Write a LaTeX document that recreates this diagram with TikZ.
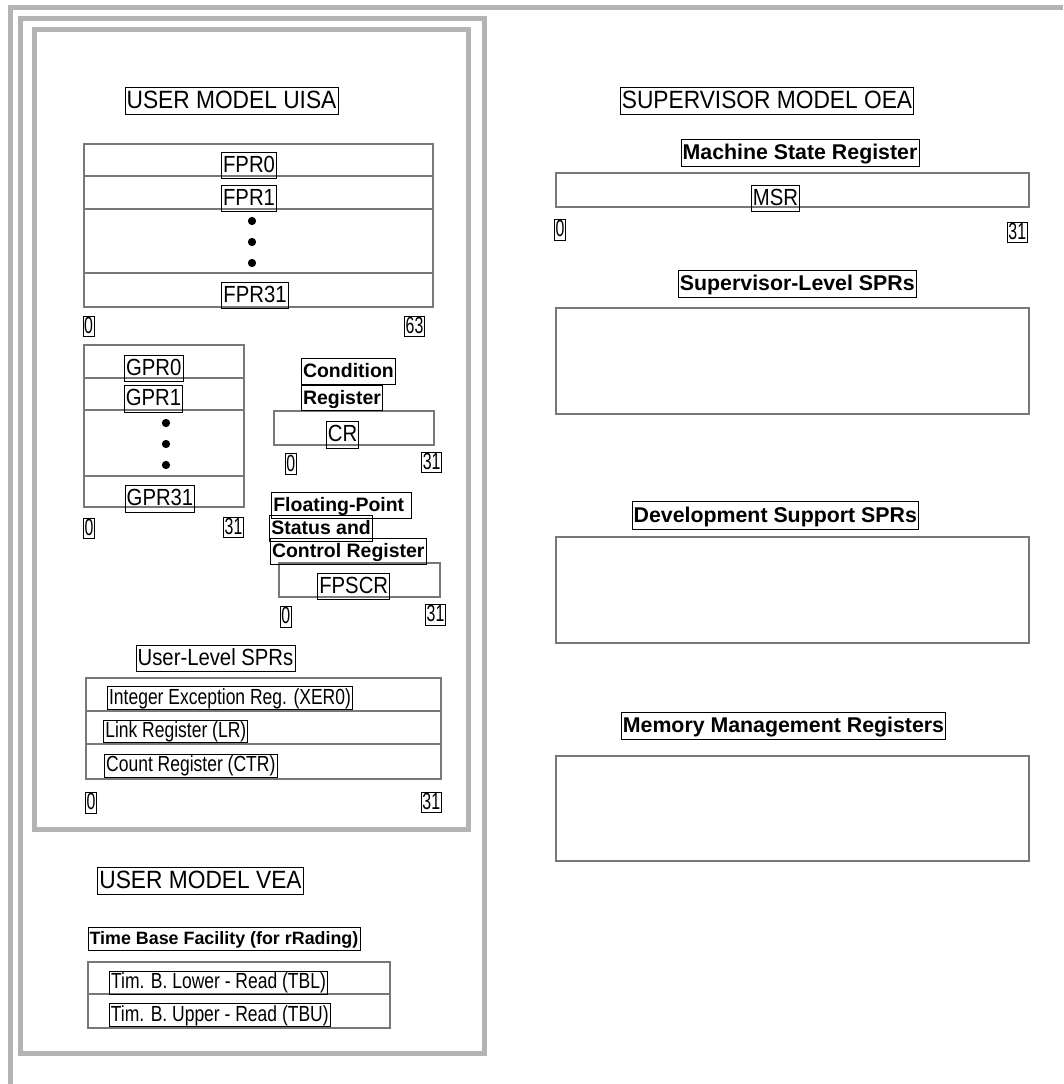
\documentclass[tikz,border=0pt]{standalone}
\usepackage{fontspec}
\setmainfont{Liberation Sans}
\newfontfamily\titlefont[FakeStretch=0.91]{Liberation Sans}
\newfontfamily\regfont[FakeStretch=0.87]{Liberation Sans}
\newfontfamily\rowfont[FakeStretch=0.80]{Liberation Sans}
\newfontfamily\digfont[FakeStretch=0.68]{Liberation Sans}
\definecolor{framegray}{RGB}{181,178,181}
\definecolor{midgray}{RGB}{120,120,120}
\tikzset{
  frame/.style={draw=framegray, line width=3.75pt},
  regbar/.style={draw=black, line width=0.6pt, double=midgray, double distance=0.9pt},
  dotmark/.style={fill=black, radius=3.1pt},
  lbl/.style={draw=black, line width=0.65pt, inner xsep=1.2pt, inner ysep=0pt, anchor=center},
  ttl/.style={lbl, font=\titlefont\fontsize{18.75pt}{20pt}\selectfont, text height=15.8pt, text depth=4.6pt},
  reg/.style={lbl, font=\regfont\fontsize{17.5pt}{19pt}\selectfont, text height=15pt, text depth=4.8pt},
  rowlbl/.style={lbl, font=\rowfont\fontsize{16.4pt}{18pt}\selectfont, text height=13pt, text depth=3.8pt},
  dig/.style={lbl, font=\digfont\fontsize{17.5pt}{19pt}\selectfont, text height=12.9pt, text depth=2.6pt, inner xsep=0.8pt},
  bigbold/.style={lbl, font=\bfseries\fontsize{16pt}{18pt}\selectfont, text height=15.2pt, text depth=5.2pt},
  midbold/.style={lbl, font=\bfseries\fontsize{14.6pt}{16pt}\selectfont, text height=14.2pt, text depth=5pt},
  smbold/.style={lbl, font=\bfseries\fontsize{13.4pt}{15pt}\selectfont, text height=12.7pt, text depth=4.5pt}
}
\begin{document}
\begin{tikzpicture}[x=0.75pt,y=-0.75pt]
\useasboundingbox (0,0) rectangle (1063,1084);
\fill[white] (0,0) rectangle (1063,1084);
% frames
\draw[frame] (10.5,1084) -- (10.5,7.5) -- (1063,7.5);
\draw[frame] (20.5,18.5) rectangle (484.5,1053);
\draw[frame] (34.5,29.5) rectangle (468.5,829.5);
% FPR stack
\draw[regbar] (84,144) rectangle (433,176);
\draw[regbar] (84,176) rectangle (433,209);
\draw[regbar] (84,209) rectangle (433,273);
\draw[regbar] (84,273) rectangle (433,307);
\fill[dotmark] (252,221) circle;
\fill[dotmark] (252,242) circle;
\fill[dotmark] (252,263) circle;
% GPR stack
\draw[regbar] (84,345) rectangle (244,378);
\draw[regbar] (84,378) rectangle (244,410);
\draw[regbar] (84,410) rectangle (244,476);
\draw[regbar] (84,476) rectangle (244,507);
\fill[dotmark] (166,423) circle;
\fill[dotmark] (166,444) circle;
\fill[dotmark] (166,465) circle;
% CR, FPSCR
\draw[regbar] (274,411) rectangle (434,445);
\draw[regbar] (279,563) rectangle (440,597);
% user-level SPRs
\draw[regbar] (86,678) rectangle (441,711);
\draw[regbar] (86,711) rectangle (441,744);
\draw[regbar] (86,744) rectangle (441,779);
% time base
\draw[regbar] (88,962) rectangle (390,994);
\draw[regbar] (88,994) rectangle (390,1028);
% supervisor
\draw[regbar] (556,173) rectangle (1029,207);
\draw[regbar] (556,308) rectangle (1029,414);
\draw[regbar] (556,537) rectangle (1029,643);
\draw[regbar] (556,756) rectangle (1029,861);

% titles
\node[ttl] (tuisa) at (231.5,101) {USER MODEL UISA};
\node[ttl] (toea) at (767,101) {SUPERVISOR MODEL OEA};
\node[ttl] (tvea) at (200.5,881.3) {USER MODEL VEA};
% register labels
\node[reg] (fpr0) at (249,165.5) {FPR0};
\node[reg] (fpr1) at (249,198.3) {FPR1};
\node[reg] (fpr31) at (255,295.5) {FPR31};
\node[reg] (gpr0) at (153.7,368.3) {GPR0};
\node[reg] (gpr1) at (153.5,399) {GPR1};
\node[reg] (gpr31) at (160,499) {GPR31};
\node[reg] (cr) at (342.5,435) {CR};
\node[reg] (fpscr) at (353.7,586.7) {FPSCR};
\node[reg] (msr) at (775.5,198.5) {MSR};
\node[reg] (ulspr) at (215.5,658.7) {User-Level SPRs};
% row labels
\node[rowlbl] (xer) at (230,698) {Integer Exception Reg. (XER0)};
\node[rowlbl] (lr) at (175.8,731.7) {Link Register (LR)};
\node[rowlbl] (ctr) at (190.8,765.8) {Count Register (CTR)};
\node[rowlbl] (tbl) at (218.5,982.8) {Tim. B. Lower - Read (TBL)};
\node[rowlbl] (tbu) at (219.8,1015) {Tim. B. Upper - Read (TBU)};
% bit numbers
\node[dig] (f0) at (88.5,326.5) {0};
\node[dig] (f63) at (414.5,326.5) {63};
\node[dig] (g0) at (89,528.3) {0};
\node[dig] (g31) at (233.5,527.5) {31};
\node[dig] (c0) at (290.7,464.2) {0};
\node[dig] (c31) at (431.7,462.5) {31};
\node[dig] (p0) at (285.7,616.7) {0};
\node[dig] (p31) at (435.5,615) {31};
\node[dig] (s0) at (91,803) {0};
\node[dig] (s31) at (431.3,802.5) {31};
\node[dig] (m0) at (560,230) {0};
\node[dig] (m31) at (1017.3,232.5) {31};
% bold headings
\node[bigbold] (hmsr) at (800,153) {Machine State Register};
\node[bigbold] (hsup) at (797.3,284.2) {Supervisor-Level SPRs};
\node[bigbold] (hdev) at (775.3,515.5) {Development Support SPRs};
\node[bigbold] (hmmu) at (783.5,725.8) {Memory Management Registers};
\node[midbold, anchor=west] (hcr1) at (301,371.3) {Condition};
\node[midbold, anchor=west] (hcr2) at (301,398) {Register};
\node[midbold, anchor=west] (hfp1) at (271.3,505.3) {Floating-Point\kern4.5pt};
\node[midbold, anchor=west] (hfp2) at (269.3,528.3) {Status and};
\node[midbold, anchor=west] (hfp3) at (270,551.7) {Control Register};
\node[smbold] (htb) at (224,939) {Time Base Facility (for rRading)};
\end{tikzpicture}
\end{document}
